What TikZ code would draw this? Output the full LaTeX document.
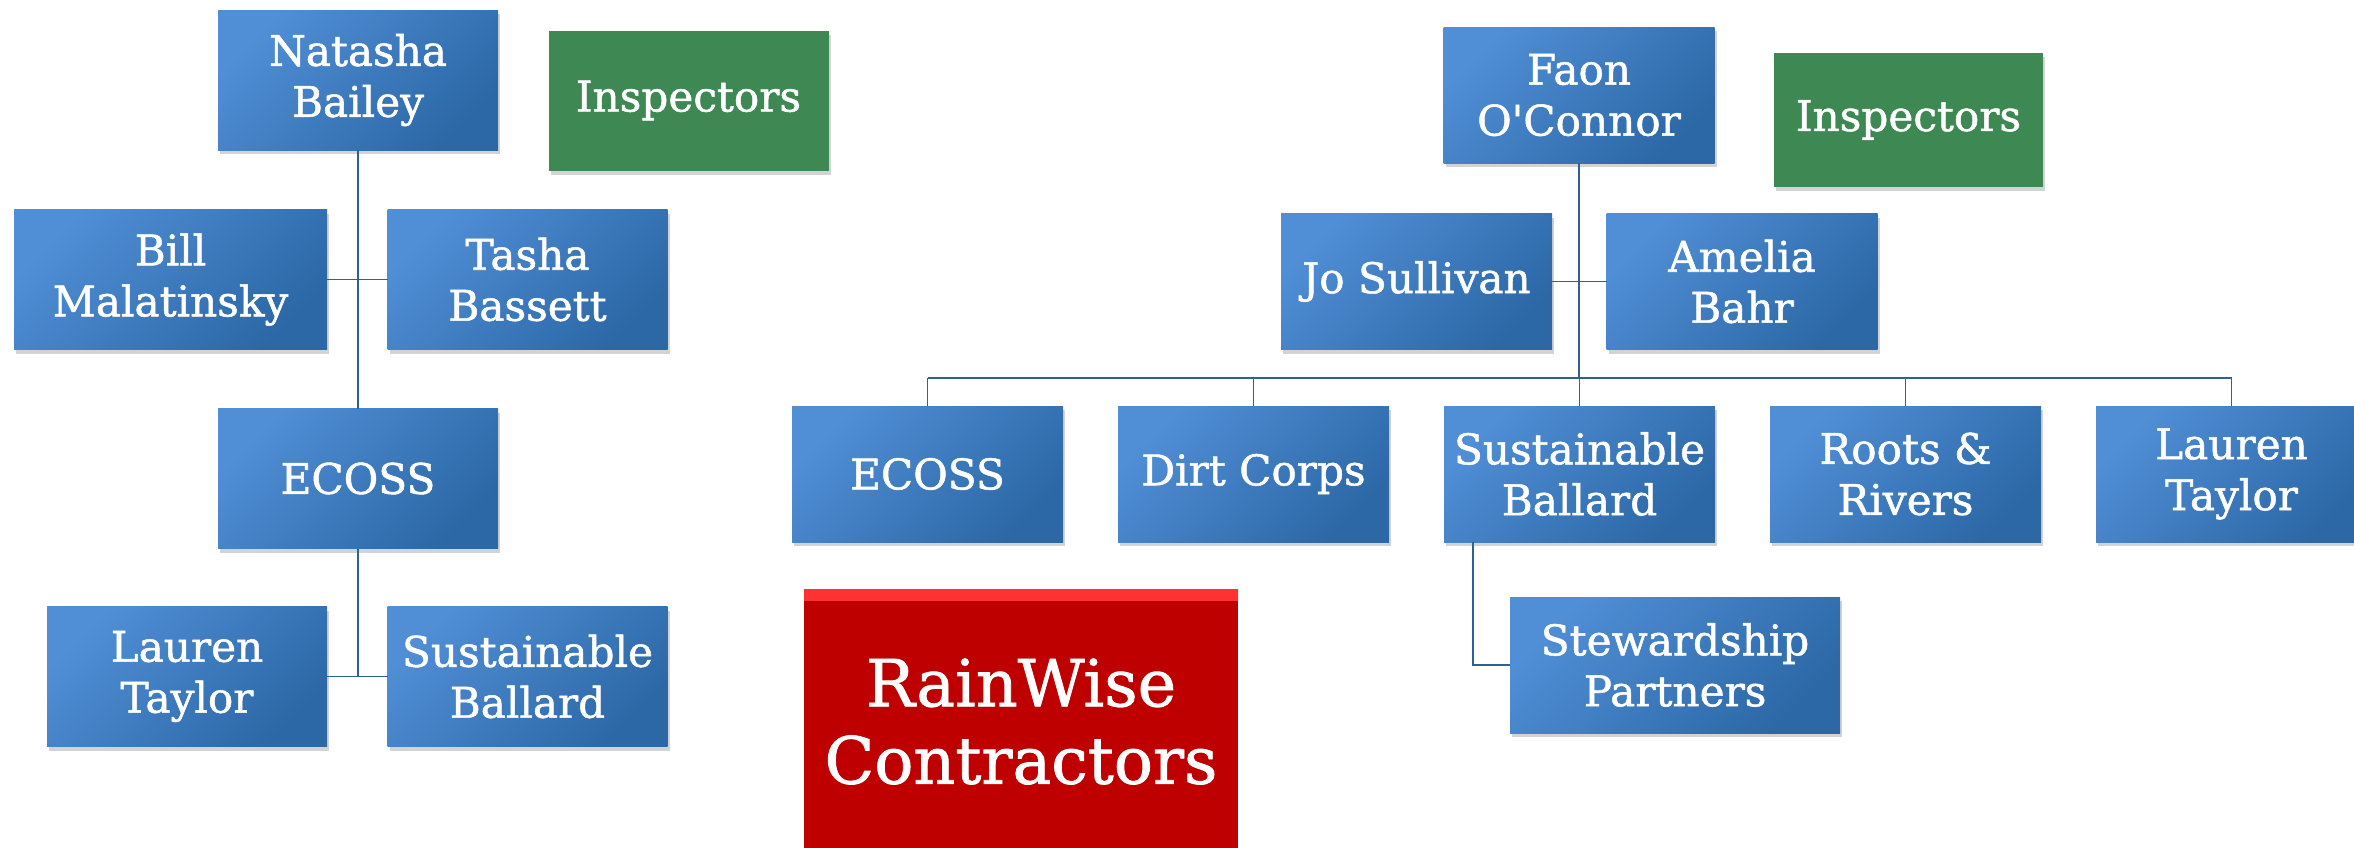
\documentclass[tikz,border=0pt]{standalone}
\usepackage{fontspec}
\setmainfont{DejaVu Serif}[Ligatures = TeXOff, FakeBold = 1.2]
\usetikzlibrary{positioning, shadows}
\definecolor{boxlight}{RGB}{80,142,214}
\definecolor{boxdark}{RGB}{44,104,166}
\definecolor{insgreen}{RGB}{62,136,84}
\definecolor{rwred}{RGB}{190,0,0}
\definecolor{linkblue}{RGB}{46,98,150}
\tikzset{
	person/.style = {rectangle, minimum width = 5.6cm, minimum height = 2.8cm, align = center, text = white, font = \fontsize{24}{29}\selectfont, top color = boxlight, bottom color = boxdark, shading angle = 45, drop shadow = {opacity = 0.35, shadow xshift = 0.04cm, shadow yshift = -0.08cm}},
	small/.style = {minimum width = 5.42cm, minimum height = 2.72cm},
	inspect/.style = {rectangle, minimum width = 5.6cm, minimum height = 2.8cm, align = center, text = white, font = \fontsize{24}{29}\selectfont, fill = insgreen, drop shadow = {opacity = 0.35, shadow xshift = 0.04cm, shadow yshift = -0.08cm}},
	rainwise/.style = {rectangle, minimum width = 8.68cm, minimum height = 5.3cm, align = center, text = white, fill = rwred, font = \fontsize{37}{44}\selectfont, path picture = {\fill [top color = red!80!white, bottom color = rwred] (path picture bounding box.north west) rectangle ([yshift = -0.22cm]path picture bounding box.north east);}},
	link/.style = {draw = linkblue, line width = 1pt},
	buslink/.style = {draw = linkblue, line width = 1.6pt}
}

\begin{document}
\begin{tikzpicture}[inner sep = 0pt, outer sep = 0pt]
	\clip (0,0) rectangle (47.08,-16.94);

	%% left chart
	% top nodes
	\node (nat) [person] at (7.16,-1.60) {Natasha\\Bailey};
	\node (inspone) [inspect] at (13.77,-2.01) {Inspectors};
	% second row
	\node (bill) [person, minimum width = 6.26cm] at (3.41,-5.59) {Bill\\Malatinsky};
	\node (tasha) [person] at (10.55,-5.59) {Tasha\\Bassett};
	% ecoss and below
	\node (ecossone) [person] at (7.16,-9.57) {ECOSS};
	\node (laurenone) [person] at (3.74,-13.53) {Lauren\\Taylor};
	\node (sustone) [person] at (10.55,-13.53) {Sustainable\\Ballard};

	%% right chart
	\node (faon) [person, small] at (31.58,-1.90) {Faon\\O'Connor};
	\node (insptwo) [inspect, minimum width = 5.38cm, minimum height = 2.68cm] at (38.17,-2.40) {Inspectors};
	\node (jo) [person, small] at (28.33,-5.63) {Jo Sullivan};
	\node (amelia) [person, small] at (34.84,-5.63) {Amelia\\Bahr};
	% contractor row
	\node (ecosstwo) [person, small] at (18.55,-9.48) {ECOSS};
	\node (dirt) [person, small, right = 1.1cm of ecosstwo] {Dirt Corps};
	\node (susttwo) [person, small, right = 1.1cm of dirt] {Sustainable\\Ballard};
	\node (roots) [person, small, right = 1.1cm of susttwo] {Roots \&\\Rivers};
	\node (laurentwo) [person, small, right = 1.1cm of roots] {Lauren\\Taylor};
	\node (stew) [person, small, minimum width = 6.6cm] at (33.50,-13.30) {Stewardship\\Partners};

	%% title
	\node (rain) [rainwise] at (20.42,-14.43) {RainWise\\Contractors};

	%%% lines %%%
	\draw [link] (nat.south) -- (ecossone.north);
	\draw [link] (bill.east) -- (tasha.west);
	\draw [link] (ecossone.south) |- (laurenone.east);
	\draw [link] (ecossone.south) |- (sustone.west);

	\coordinate (bus) at (31.58,-7.56);
	\draw [link] (faon.south) -- (bus);
	\draw [link] (jo.east) -- (amelia.west);
	\draw [buslink] (ecosstwo.north |- bus) -- (laurentwo.north |- bus);
	\foreach \n in {ecosstwo, dirt, susttwo, roots, laurentwo}
		\draw [link] (\n.north) -- (\n.north |- bus);
	\draw [link] ([xshift = 0.58cm]susttwo.south west) |- (stew.west);
\end{tikzpicture}
\end{document}
